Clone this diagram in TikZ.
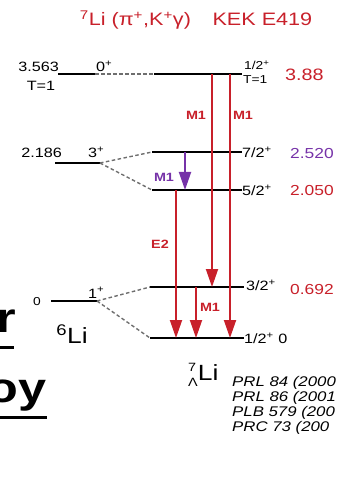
\documentclass[tikz,border=0pt]{standalone}
\usepackage{fontspec}
\setmainfont{Liberation Sans}
\usepackage{graphicx}
\usetikzlibrary{arrows.meta}
\definecolor{lired}{RGB}{200,32,42}
\definecolor{lipur}{RGB}{118,50,168}
\definecolor{dashgray}{RGB}{110,110,110}
\newcommand\hs[1]{\scalebox{1.2}[1]{#1}}
\newcommand\spx[1]{\textsuperscript{#1}}
\begin{document}
\begin{tikzpicture}[x=1pt,y=-1pt,
  lev/.style={line width=2.8pt},
  conn/.style={dash pattern=on 3.5pt off 2.5pt, line width=1.4pt, dashgray},
  gam/.style={line width=1.9pt, lired, -{Triangle[width=12pt,length=18pt]}},
  gamp/.style={gam, lipur},
  lbl/.style={font=\fontsize{13.5}{15}\selectfont, inner sep=0pt},
  small/.style={font=\fontsize{11.5}{13}\selectfont, inner sep=0pt},
  val/.style={font=\fontsize{14.5}{16}\selectfont, inner sep=0pt, lired},
  mlab/.style={font=\fontsize{12}{14}\selectfont\bfseries, inner sep=0pt, lired},
  nuc/.style={font=\fontsize{22}{24}\selectfont, inner sep=0pt},
  ref/.style={font=\fontsize{14}{15}\selectfont\itshape, inner sep=0pt, anchor=base west},
  big/.style={font=\fontsize{42}{44}\selectfont\bfseries, inner sep=0pt, anchor=base east},
]
\useasboundingbox (0,0) rectangle (343,478);
\clip (0,0) rectangle (343,478);

% title
\node[font=\fontsize{18}{20}\selectfont, lired, inner sep=0pt] (title) at (196,20)
  {\hs{\spx{7}Li (π\spx{+},K\spx{+}γ)\quad KEK E419}};

% level end points
\coordinate (a1) at (58,74);  \coordinate (a2) at (95,74);
\coordinate (b1) at (55,163); \coordinate (b2) at (100,163);
\coordinate (c1) at (51,301); \coordinate (c2) at (97,301);
\coordinate (r1) at (154,74);  \coordinate (r2) at (242,74);
\coordinate (s1) at (152,152); \coordinate (s2) at (242,152);
\coordinate (t1) at (152,190); \coordinate (t2) at (242,190);
\coordinate (u1) at (150,287); \coordinate (u2) at (244,287);
\coordinate (v1) at (150,338); \coordinate (v2) at (244,338);

% levels
\draw[lev] (a1) -- (a2);
\draw[lev] (b1) -- (b2);
\draw[lev] (c1) -- (c2);
\draw[lev] (r1) -- (r2);
\draw[lev] (s1) -- (s2);
\draw[lev] (t1) -- (t2);
\draw[lev] (u1) -- (u2);
\draw[lev] (v1) -- (v2);

% correspondence lines
\draw[conn] (a2) -- (r1);
\draw[conn] (b2) -- (s1);
\draw[conn] (b2) -- (t1);
\draw[conn] (c2) -- (u1);
\draw[conn] (c2) -- (v1);

% gamma transitions
\coordinate (g1s) at (212,74);  \coordinate (g1e) at (212,287);
\coordinate (g2s) at (230,74);  \coordinate (g2e) at (230,338);
\coordinate (g3s) at (185,152); \coordinate (g3e) at (185,190);
\coordinate (g4s) at (176,190); \coordinate (g4e) at (176,338);
\coordinate (g5s) at (196,287); \coordinate (g5e) at (196,338);
\draw[gam] (g1s) -- (g1e);
\draw[gam] (g2s) -- (g2e);
\draw[gamp] (g3s) -- (g3e);
\draw[gam] (g4s) -- (g4e);
\draw[gam] (g5s) -- (g5e);

\node[mlab] (m1) at (196,115) {\hs{M1}};
\node[mlab] (m2) at (243,115) {\hs{M1}};
\node[mlab, lipur] (m3) at (164,177) {\hs{M1}};
\node[mlab] (e2) at (160,244) {\hs{E2}};
\node[mlab] (m5) at (210,307) {\hs{M1}};

% left labels (6Li core)
\node[lbl, anchor=base east] (e3563) at (59,72) {\hs{3.563}};
\node[lbl] (t1l) at (41,86) {\hs{T=1}};
\node[lbl, anchor=base west] (j0) at (96,72) {\hs{0\spx{+}}};
\node[lbl, anchor=base east] (e2186) at (62,158) {\hs{2.186}};
\node[lbl, anchor=base west] (j3) at (88,158) {\hs{3\spx{+}}};
\node[small] (e0) at (37,302) {\hs{0}};
\node[lbl, anchor=base west] (j1) at (88,298) {\hs{1\spx{+}}};
\node[nuc] (li6) at (72,334) {\hs{\spx{6}Li}};

% right labels (hypernucleus)
\node[small, anchor=base west] (j12a) at (244,70) {\hs{1/2\spx{+}}};
\node[small, anchor=base west] (t1r) at (243,84) {\hs{T=1}};
\node[val, font=\fontsize{16.5}{18}\selectfont, anchor=west] (e388) at (285,75) {\hs{3.88}};
\node[lbl, anchor=west] (j72) at (242,152) {\hs{7/2\spx{+}}};
\node[val, lipur, anchor=west] (e2520) at (290,154) {\hs{2.520}};
\node[lbl, anchor=west] (j52) at (242,190) {\hs{5/2\spx{+}}};
\node[val, anchor=west] (e2050) at (290,191) {\hs{2.050}};
\node[lbl, anchor=west] (j32) at (246,285) {\hs{3/2\spx{+}}};
\node[val, anchor=west] (e0692) at (290,290) {\hs{0.692}};
\node[lbl, anchor=west] (j12b) at (244,338) {\hs{1/2\spx{+} 0}};
\node[nuc, anchor=base west] (li7) at (188,380)
  {\hs{\rlap{\raisebox{0.75ex}{\fontsize{12}{12}\selectfont 7}}\raisebox{-0.55ex}{\fontsize{12}{12}\selectfont Λ}Li}};

% references
\node[ref] (p1) at (232,386) {\hs{PRL 84 (2000}};
\node[ref] (p2) at (232,401) {\hs{PRL 86 (2001}};
\node[ref] (p3) at (232,416) {\hs{PLB 579 (200}};
\node[ref] (p4) at (232,431) {\hs{PRC 73 (200}};

% slide title fragments
\node[big] (fr) at (16,332) {\hs{r}};
\draw[line width=3pt] (0,347) -- (14,347);
\node[big] (foy) at (47,402) {\hs{oy}};
\draw[line width=3pt] (0,417) -- (47,417);
\end{tikzpicture}
\end{document}
